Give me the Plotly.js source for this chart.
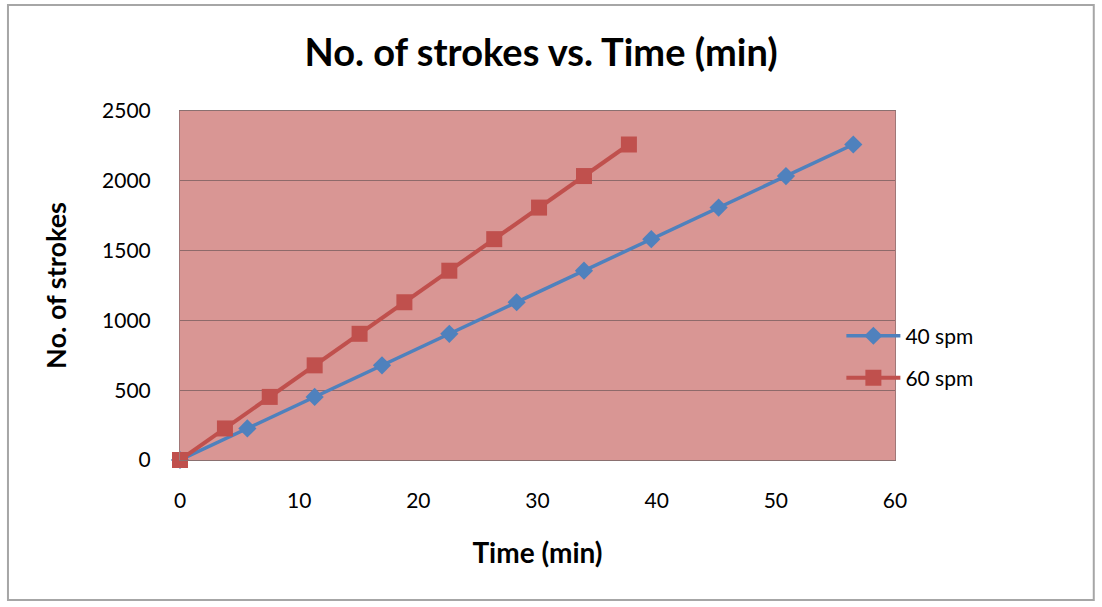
<!DOCTYPE html>
<html>
<head>
<meta charset="utf-8">
<script src="https://cdn.plot.ly/plotly-3.0.1.min.js"></script>
<style>
  html, body { margin: 0; padding: 0; background: #ffffff; }
  #chart { width: 1102px; height: 607px; }
</style>
</head>
<body>
<div id="chart"></div>
<script>
// Strokes counted against elapsed time at two stroke rates
const time40 = [0, 5.65, 11.3, 16.95, 22.6, 28.25, 33.9, 39.55, 45.2, 50.85, 56.5];
const strokes40 = [0, 226, 452, 678, 904, 1130, 1356, 1582, 1808, 2034, 2260];
const time60 = [0, 3.77, 7.53, 11.3, 15.07, 18.83, 22.6, 26.37, 30.13, 33.9, 37.67];
const strokes60 = [0, 226, 452, 678, 904, 1130, 1356, 1582, 1808, 2034, 2260];
const seriesNames = ['40 spm', '60 spm'];
const xTicks = [0, 10, 20, 30, 40, 50, 60];
const yTicks = [0, 500, 1000, 1500, 2000, 2500];

const FONT = 'Lato, "Open Sans", sans-serif';

const traces = [
  {
    x: time40, y: strokes40, name: seriesNames[0], type: 'scatter', mode: 'lines+markers',
    line: { color: '#4F81BD', width: 3.5 },
    marker: { symbol: 'diamond', size: 14, color: '#4F81BD' },
    cliponaxis: false,
    legend: 'legend', showlegend: true
  },
  {
    x: time60, y: strokes60, name: seriesNames[1], type: 'scatter', mode: 'lines+markers',
    line: { color: '#C0504D', width: 4 },
    marker: { symbol: 'square', size: 16, color: '#C0504D' },
    cliponaxis: false,
    legend: 'legend2', showlegend: true
  }
];

const legendStyle = (yPos) => ({
  x: 0.925, xanchor: 'left', y: yPos, yanchor: 'middle',
  bgcolor: 'rgba(0,0,0,0)', borderwidth: 0, itemwidth: 54,
  font: { family: FONT, size: 21, color: '#000000' }
});

const layout = {
  width: 1102, height: 607,
  showlegend: true,
  margin: { l: 180, r: 207, t: 111, b: 147 },
  paper_bgcolor: '#ffffff',
  plot_bgcolor: '#D99694',
  font: { family: FONT, color: '#000000', size: 20 },
  title: {
    text: '<b>No. of strokes vs. Time (min)</b>',
    font: { family: FONT, size: 38, color: '#000000' },
    xref: 'paper', x: 0.505, xanchor: 'center',
    yref: 'container', y: 0.914, yanchor: 'middle'
  },
  xaxis: {
    range: [0, 60], tickvals: xTicks, ticktext: xTicks.map(String),
    showgrid: false, zeroline: false,
    showline: true, linecolor: '#8a7070', linewidth: 1, mirror: true,
    ticks: '', ticklabelstandoff: 22,
    tickfont: { family: FONT, size: 21, color: '#000000' },
    title: { text: '<b>Time (min)</b>', font: { family: FONT, size: 28, color: '#000000' }, standoff: 32 }
  },
  yaxis: {
    range: [0, 2500], tickvals: yTicks, ticktext: yTicks.map(String),
    showgrid: true, gridcolor: '#8e6a6a', gridwidth: 1, zeroline: false,
    showline: true, linecolor: '#a07878', linewidth: 1, mirror: true,
    ticks: '', ticklabelstandoff: 24,
    tickfont: { family: FONT, size: 21, color: '#000000' },
    title: { text: '<b>No. of strokes</b>', font: { family: FONT, size: 27, color: '#000000' }, standoff: 27 }
  },
  legend: legendStyle(0.355),
  legend2: legendStyle(0.235),
  shapes: [
    {
      type: 'rect', xref: 'paper', yref: 'paper',
      x0: -0.2406, x1: 1.278, y0: -0.401, y1: 1.304,
      line: { color: '#a6a6a6', width: 2 }, fillcolor: 'rgba(0,0,0,0)', layer: 'below'
    }
  ]
};

Plotly.newPlot('chart', traces, layout, { displayModeBar: false, staticPlot: true });
</script>
</body>
</html>
